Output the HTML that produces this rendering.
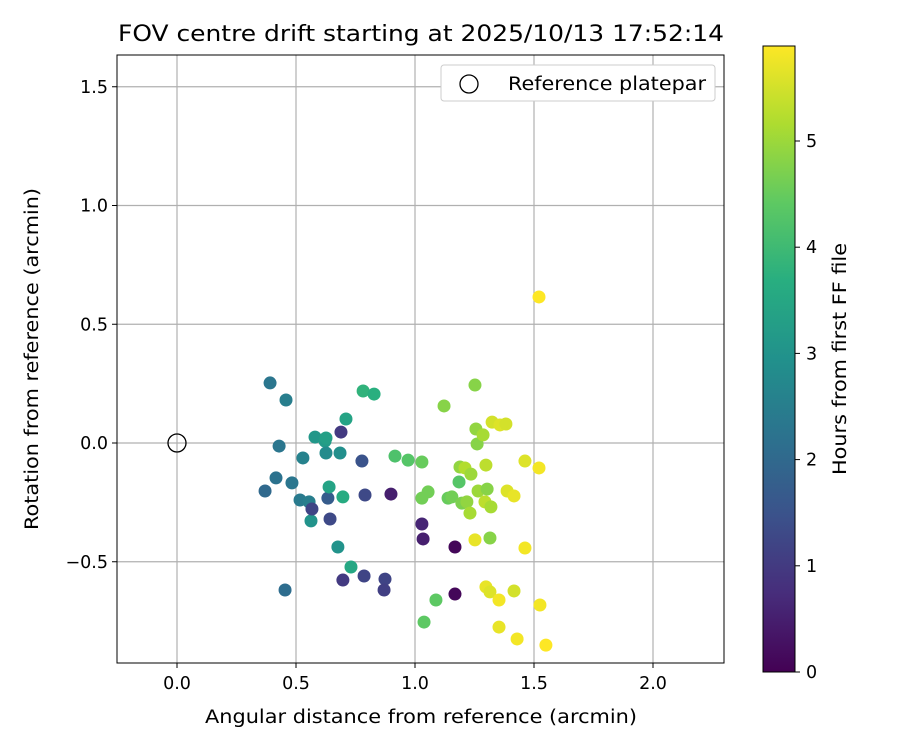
<!DOCTYPE html>
<html><head><meta charset="utf-8"><style>
body{margin:0;background:#fff;}
svg{font-family:"DejaVu Sans","Liberation Sans",sans-serif;}
</style></head><body>
<svg id="chart" width="900" height="750" viewBox="0 0 900 750" xmlns="http://www.w3.org/2000/svg">
<defs>
<linearGradient id="vir" x1="0" y1="1" x2="0" y2="0">
<stop offset="0" stop-color="#440154"/><stop offset="0.125" stop-color="#472d7b"/><stop offset="0.25" stop-color="#3b528b"/><stop offset="0.375" stop-color="#2c728e"/><stop offset="0.5" stop-color="#21918c"/><stop offset="0.625" stop-color="#28ae80"/><stop offset="0.75" stop-color="#5ec962"/><stop offset="0.875" stop-color="#addc30"/><stop offset="1" stop-color="#fde725"/>
</linearGradient>
</defs>
<text x="421" y="41" font-size="22" text-anchor="middle" textLength="606" lengthAdjust="spacingAndGlyphs">FOV centre drift starting at 2025/10/13 17:52:14</text>
<g id="grid"></g>
<g id="ticks"></g>
<g id="points"></g>
<rect x="117" y="55" width="607" height="608" fill="none" stroke="#000" stroke-width="1"/>
<text x="421" y="723" font-size="18.5" text-anchor="middle" textLength="432" lengthAdjust="spacingAndGlyphs">Angular distance from reference (arcmin)</text>
<text x="38" y="359" font-size="18.5" text-anchor="middle" transform="rotate(-90 38 359)" textLength="342" lengthAdjust="spacingAndGlyphs">Rotation from reference (arcmin)</text>
<g>
<rect x="441" y="65" width="274" height="36" rx="3" fill="#fff" stroke="#ccc"/>
<circle cx="469" cy="84" r="9" fill="none" stroke="#000" stroke-width="1.3"/>
<text x="508" y="90" font-size="18.5" textLength="198" lengthAdjust="spacingAndGlyphs">Reference platepar</text>
</g>
<rect x="763" y="46" width="32" height="626" fill="url(#vir)" stroke="#000" stroke-width="1"/>
<g id="cbticks"></g>
<text x="846" y="359" font-size="18.5" text-anchor="middle" transform="rotate(-90 846 359)" textLength="232" lengthAdjust="spacingAndGlyphs">Hours from first FF file</text>
</svg>
<script>
const xTicks=[0.0,0.5,1.0,1.5,2.0];
const yTicks=[-0.5,0.0,0.5,1.0,1.5];
const cbTicks=[0,1,2,3,4,5];
const xs=[0.391,0.458,0.429,0.370,0.416,0.483,0.529,0.517,0.555,0.563,0.567,0.580,0.622,0.626,0.626,0.634,0.639,0.643,0.685,0.689,0.697,0.710,0.676,0.731,0.697,0.782,0.828,0.777,0.790,0.786,0.454,0.874,0.870,0.899,0.916,0.971,1.029,1.029,1.034,1.029,1.055,1.038,1.088,1.122,1.168,1.168,1.139,1.155,1.185,1.189,1.197,1.210,1.235,1.218,1.231,1.252,1.256,1.261,1.265,1.286,1.298,1.303,1.294,1.252,1.324,1.357,1.382,1.315,1.298,1.315,1.353,1.353,1.387,1.416,1.416,1.429,1.462,1.462,1.521,1.525,1.550,1.521,1.319];
const ys=[0.253,0.181,-0.013,-0.202,-0.147,-0.168,-0.063,-0.240,-0.248,-0.328,-0.278,0.025,0.008,0.021,-0.042,-0.232,-0.185,-0.320,-0.042,0.046,-0.227,0.101,-0.438,-0.522,-0.577,0.219,0.206,-0.076,-0.219,-0.560,-0.619,-0.573,-0.619,-0.215,-0.055,-0.072,-0.080,-0.341,-0.404,-0.232,-0.206,-0.754,-0.661,0.156,-0.438,-0.636,-0.232,-0.227,-0.164,-0.101,-0.253,-0.105,-0.131,-0.248,-0.295,0.244,0.059,-0.004,-0.202,0.034,-0.093,-0.194,-0.248,-0.408,0.088,0.076,0.080,-0.400,-0.606,-0.627,-0.661,-0.775,-0.202,-0.223,-0.623,-0.825,-0.076,-0.442,-0.105,-0.682,-0.851,0.615,-0.269];
const hours=[2.3,2.5,2.3,2.0,2.2,2.3,2.6,2.4,2.5,3.0,1.2,3.1,3.2,3.3,2.8,1.7,3.4,1.3,2.9,1.0,3.6,3.4,3.0,3.5,1.0,3.8,3.7,1.5,1.3,1.2,2.1,1.2,1.1,0.5,4.2,4.3,4.5,0.6,0.5,4.6,4.6,4.4,4.4,4.8,0.1,0.1,4.5,4.6,4.3,4.9,4.7,5.2,5.0,4.9,5.1,4.8,4.9,4.8,5.0,5.1,5.3,4.8,5.3,5.7,5.5,5.6,5.5,4.8,5.7,5.6,5.8,5.7,5.6,5.7,5.5,5.8,5.6,5.8,5.8,5.8,5.9,5.9,5.1];
const refX=[0],refY=[0];
const X=v=>177+v*238, Y=v=>443-v*237.5, CB=v=>672-v*106.2;
const hMax=5.89;
const vstops=[[68,1,84],[71,45,123],[59,82,139],[44,114,142],[33,145,140],[40,174,128],[94,201,98],[173,220,48],[253,231,37]];
function viridis(t){t=Math.max(0,Math.min(1,t))*8;const i=Math.min(7,Math.floor(t)),f=t-i,a=vstops[i],b=vstops[i+1];
return 'rgb('+a.map((c,k)=>Math.round(c+(b[k]-c)*f)).join(',')+')';}
const NS='http://www.w3.org/2000/svg';
function mk(tag,attrs,parent,txt){const e=document.createElementNS(NS,tag);for(const k in attrs)e.setAttribute(k,attrs[k]);if(txt!==undefined)e.textContent=txt;parent.appendChild(e);return e;}
const grid=document.getElementById('grid'),ticks=document.getElementById('ticks'),pts=document.getElementById('points'),cbt=document.getElementById('cbticks');
xTicks.forEach(v=>{const x=X(v);
const g=mk('line',{x1:x,x2:x,y1:55,y2:663,stroke:'#b0b0b0','stroke-width':1.2},grid);


mk('line',{x1:x,x2:x,y1:663,y2:668,stroke:'#000'},ticks);
const t=mk('text',{x:x,y:689,'font-size':17.5,'text-anchor':'middle'},ticks,v.toFixed(1));

});
yTicks.forEach(v=>{const y=Y(v);
const g=mk('line',{x1:117,x2:724,y1:y,y2:y,stroke:'#b0b0b0','stroke-width':1.2},grid);


mk('line',{x1:112,x2:117,y1:y,y2:y,stroke:'#000'},ticks);
const t=mk('text',{x:108,y:y+6,'font-size':17.5,'text-anchor':'end'},ticks,(v<0?'\u2212'+Math.abs(v).toFixed(1):v.toFixed(1)));

});
cbTicks.forEach(v=>{const y=CB(v);
mk('line',{x1:795,x2:800,y1:y,y2:y,stroke:'#000'},cbt);
const t=mk('text',{x:806,y:y+6,'font-size':17.5},cbt,String(v));

});
xs.forEach((v,i)=>{const c=mk('circle',{cx:X(v),cy:Y(ys[i]),r:6.5,fill:viridis(hours[i]/hMax)},pts);

});
refX.forEach((v,i)=>{const c=mk('circle',{cx:X(v),cy:Y(refY[i]),r:9,fill:'none',stroke:'#000','stroke-width':1.3},pts);

});
</script>
</body></html>
